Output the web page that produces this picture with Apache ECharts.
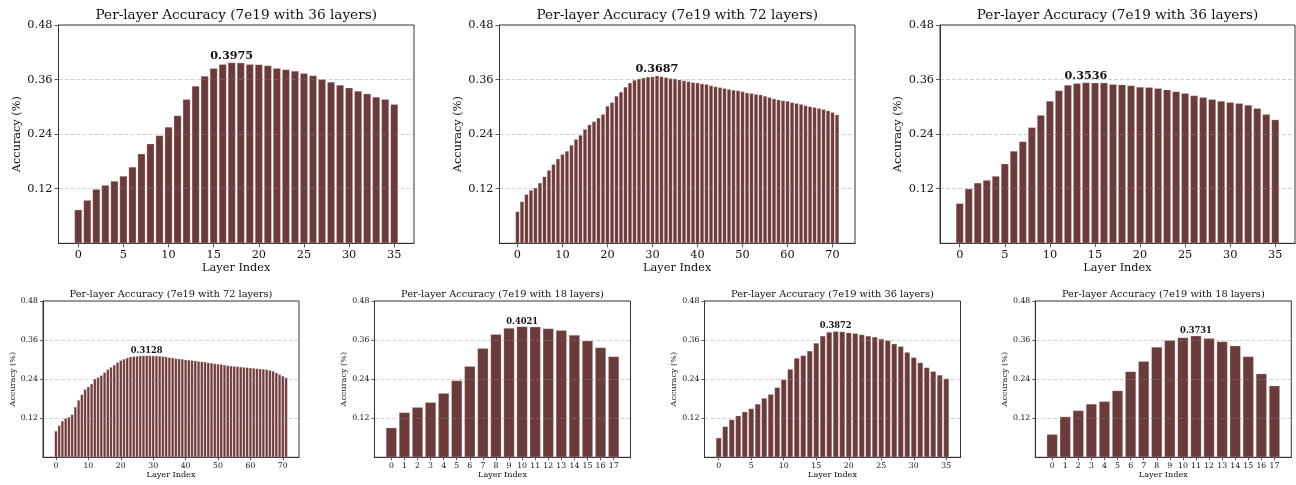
<!DOCTYPE html>
<html>
<head>
<meta charset="utf-8">
<script src="https://cdn.jsdelivr.net/npm/echarts@6/dist/echarts.min.js"></script>
<style>
html,body{margin:0;padding:0;background:#fff;}
#chart{width:1296px;height:485px;}
</style>
</head>
<body>
<div id="chart"></div>
<script>
// ---- Data ----
const titles = [
  "Per-layer Accuracy (7e19 with 36 layers)",
  "Per-layer Accuracy (7e19 with 72 layers)",
  "Per-layer Accuracy (7e19 with 36 layers)",
  "Per-layer Accuracy (7e19 with 72 layers)",
  "Per-layer Accuracy (7e19 with 18 layers)",
  "Per-layer Accuracy (7e19 with 36 layers)",
  "Per-layer Accuracy (7e19 with 18 layers)"
];
const accTop36a = [0.074,0.095,0.119,0.128,0.137,0.148,0.168,0.197,0.219,0.237,
  0.256,0.281,0.317,0.346,0.368,0.385,0.394,0.3975,0.397,0.394,
  0.3935,0.391,0.385,0.382,0.379,0.374,0.369,0.361,0.355,0.348,
  0.342,0.335,0.329,0.322,0.317,0.306];
const accTop72 = [0.070,0.092,0.108,0.117,0.122,0.133,0.147,0.161,0.174,0.186,
  0.196,0.203,0.216,0.229,0.238,0.251,0.261,0.268,0.276,0.284,
  0.302,0.310,0.324,0.333,0.344,0.353,0.359,0.362,0.364,0.366,
  0.3665,0.3687,0.367,0.365,0.363,0.362,0.360,0.358,0.356,0.354,
  0.353,0.351,0.350,0.347,0.345,0.343,0.341,0.339,0.337,0.336,
  0.334,0.331,0.330,0.328,0.327,0.324,0.321,0.318,0.316,0.314,
  0.313,0.310,0.308,0.306,0.303,0.301,0.299,0.297,0.295,0.292,
  0.288,0.283];
const accTop36b = [0.088,0.120,0.133,0.139,0.148,0.175,0.203,0.224,0.255,0.282,
  0.313,0.336,0.348,0.352,0.3536,0.353,0.353,0.350,0.349,0.347,
  0.344,0.343,0.341,0.338,0.334,0.330,0.325,0.321,0.317,0.313,
  0.310,0.308,0.304,0.297,0.284,0.272];
const accBot72 = [0.081,0.098,0.112,0.120,0.124,0.132,0.155,0.176,0.193,0.209,
  0.217,0.226,0.241,0.246,0.252,0.261,0.270,0.277,0.284,0.292,
  0.298,0.302,0.306,0.309,0.310,0.311,0.312,0.3125,0.3128,0.3126,
  0.3122,0.3118,0.311,0.310,0.309,0.307,0.306,0.304,0.303,0.302,
  0.300,0.299,0.298,0.297,0.295,0.294,0.293,0.291,0.290,0.288,
  0.287,0.286,0.284,0.282,0.281,0.280,0.279,0.278,0.277,0.276,
  0.275,0.274,0.273,0.272,0.271,0.270,0.268,0.265,0.260,0.255,
  0.250,0.245];
const accBot18a = [0.091,0.138,0.154,0.169,0.197,0.236,0.280,0.335,0.378,0.397,
  0.4021,0.401,0.396,0.390,0.376,0.358,0.337,0.310];
const accBot36 = [0.060,0.095,0.116,0.128,0.140,0.150,0.164,0.182,0.194,0.215,
  0.239,0.271,0.305,0.313,0.327,0.351,0.373,0.385,0.3872,0.386,
  0.383,0.381,0.377,0.373,0.370,0.364,0.359,0.349,0.341,0.323,
  0.307,0.291,0.276,0.264,0.253,0.242];
const accBot18b = [0.071,0.125,0.144,0.164,0.172,0.205,0.264,0.295,0.339,0.360,
  0.368,0.3731,0.366,0.356,0.343,0.310,0.257,0.220];

const ticks36 = [0,5,10,15,20,25,30,35];
const ticks72 = [0,10,20,30,40,50,60,70];
const ticks18 = [0,1,2,3,4,5,6,7,8,9,10,11,12,13,14,15,16,17];
const yTicks = [0.12,0.24,0.36,0.48];
const yGridLines = [0.12,0.24,0.36];
const xName = "Layer Index";
const yName = "Accuracy (%)";

// ---- Layout / style ----
const FONT = "DejaVu Serif";
const BAR = "#6b3a3a";
const TXT = "#111";
const big = {title:13.6, tick:11.3, name:11.3, val:11.2, tickLen:4, xMargin:6, yMargin:6, xGap:19, yGap:36};
const small = {title:9.8, tick:7.8, name:8.1, val:8.3, tickLen:3, xMargin:4.5, yMargin:5, xGap:14, yGap:26};

const panels = [
  {data:accTop36a, ticks:ticks36, g:{left:58.5, top:25, width:355.5, height:218.3}, f:big, ty:15.5},
  {data:accTop72,  ticks:ticks72, g:{left:499.5, top:25, width:355.5, height:218.3}, f:big, ty:15.5},
  {data:accTop36b, ticks:ticks36, g:{left:940, top:25, width:355, height:218.3}, f:big, ty:15.5},
  {data:accBot72,  ticks:ticks72, g:{left:43, top:301, width:256, height:156.3}, f:small, ty:294},
  {data:accBot18a, ticks:ticks18, g:{left:374.5, top:301, width:256, height:156.3}, f:small, ty:294},
  {data:accBot36,  ticks:ticks36, g:{left:704.5, top:301, width:256, height:156.3}, f:small, ty:294},
  {data:accBot18b, ticks:ticks18, g:{left:1035.3, top:301, width:256, height:156.3}, f:small, ty:294}
];

const grids=[], xAxes=[], yAxes=[], series=[], graphics=[];
panels.forEach((p, k) => {
  const n = p.data.length;
  const margin = 0.05 * (n - 1 + 0.8);
  const xmin = -0.4 - margin, xmax = n - 1 + 0.4 + margin;
  const unit = p.g.width / (xmax - xmin);
  const f = p.f;
  const peak = p.data.indexOf(Math.max(...p.data));
  grids.push({left:p.g.left, top:p.g.top, width:p.g.width, height:p.g.height,
    show:true, borderColor:'#333', borderWidth:1, backgroundColor:'transparent', containLabel:false});
  xAxes.push({type:'value', gridIndex:k, min:xmin, max:xmax,
    name:xName, nameLocation:'middle', nameGap:f.xGap,
    nameTextStyle:{fontFamily:FONT, fontSize:f.name, color:TXT},
    axisLine:{show:true, onZero:false, lineStyle:{color:'#333', width:1}},
    axisTick:{show:true, customValues:p.ticks, length:f.tickLen, lineStyle:{color:'#333', width:0.8}},
    axisLabel:{show:true, customValues:p.ticks, margin:f.xMargin, fontFamily:FONT, fontSize:f.tick, color:TXT},
    splitLine:{show:false}});
  yAxes.push({type:'value', gridIndex:k, min:0, max:0.48,
    name:yName, nameLocation:'middle', nameGap:f.yGap,
    nameTextStyle:{fontFamily:FONT, fontSize:f.name, color:TXT},
    axisLine:{show:true, onZero:false, lineStyle:{color:'#333', width:1}},
    axisTick:{show:true, customValues:yTicks, length:f.tickLen, lineStyle:{color:'#333', width:0.8}},
    axisLabel:{show:true, customValues:yTicks, margin:f.yMargin, fontFamily:FONT, fontSize:f.tick, color:TXT,
      formatter:v => Number(v).toFixed(2)},
    splitLine:{show:false}});
  series.push({type:'bar', xAxisIndex:k, yAxisIndex:k,
    barWidth: 0.8 * unit + 0.5,
    itemStyle:{color:BAR, borderColor:'rgba(255,225,225,0.45)', borderWidth:0.6},
    data: p.data.map((v, i) => i === peak ? {value:[i, v], label:{show:true, position:'top', distance:1,
      formatter: () => v.toFixed(4), fontFamily:FONT, fontWeight:'bold', fontSize:f.val, color:TXT}} : [i, v]),
    markLine:{silent:true, symbol:'none', animation:false, label:{show:false},
      lineStyle:{type:[4,2], color:'rgba(140,140,140,0.5)', width:0.8},
      data: yGridLines.map(y => ({yAxis:y}))}
  });
  graphics.push({type:'text', x:p.g.left + p.g.width / 2, y:p.ty,
    style:{text:titles[k], fontFamily:FONT, fontSize:f.title, fill:TXT, textAlign:'center', textVerticalAlign:'middle'}});
});

const chart = echarts.init(document.getElementById('chart'), null, {renderer:'canvas'});
chart.setOption({animation:false, backgroundColor:'#fff', grid:grids, xAxis:xAxes, yAxis:yAxes, series:series, graphic:graphics});
</script>
</body>
</html>
